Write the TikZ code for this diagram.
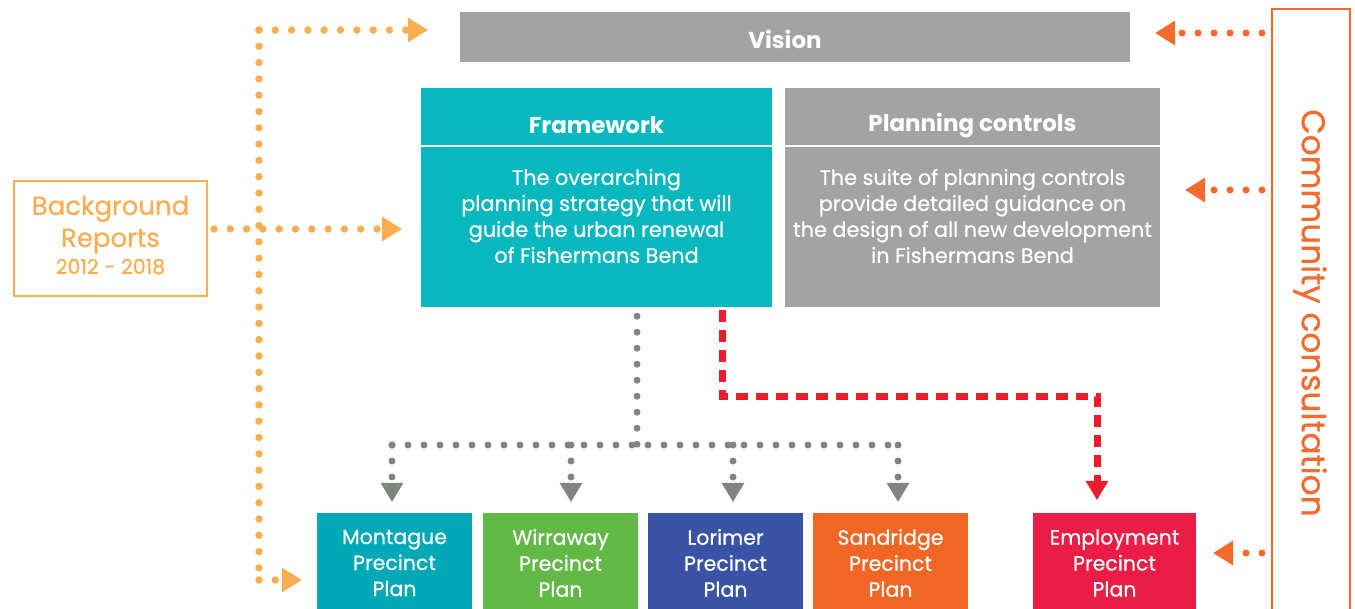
\documentclass[tikz,border=0pt]{standalone}
\usepackage{fontspec}
\setmainfont{Poppins}
\newfontfamily\medfont{Poppins}[FakeBold=0.6]
\usetikzlibrary{arrows.meta}
\definecolor{cgray}{HTML}{A3A3A3}
\definecolor{cteal}{HTML}{07B8BF}
\definecolor{cmont}{HTML}{01A9B7}
\definecolor{cgreen}{HTML}{62B946}
\definecolor{cblue}{HTML}{3A53A4}
\definecolor{csand}{HTML}{F26625}
\definecolor{cemp}{HTML}{EB1D47}
\definecolor{clor}{HTML}{FBAD52}
\definecolor{ccom}{HTML}{F26A2C}
\definecolor{cdot}{HTML}{808580}
\definecolor{cred}{HTML}{EC1C2D}
\tikzset{
  boxfill/.style={rectangle, inner sep=0pt, draw=none},
  titletext/.style={text=white, font=\fontsize{23}{26}\selectfont\bfseries},
  bodytext/.style={text=white, align=center, font=\medfont\fontsize{20.8}{26}\selectfont},
  precinct/.style={rectangle, inner sep=0pt, minimum width=155pt, minimum height=100pt,
    text=white, align=center, font=\medfont\fontsize{20.5}{26}\selectfont},
  odots/.style={clor, line width=7.5pt, line cap=round, dash pattern=on 0pt off 16.3pt},
  cdots/.style={ccom, line width=7pt, line cap=round, dash pattern=on 0pt off 16pt},
  gdots/.style={cdot, line width=7pt, line cap=round, dash pattern=on 0pt off 16pt},
  rdash/.style={cred, line width=7pt, dash pattern=on 12pt off 8pt},
  otip/.style={-{Triangle[length=20pt,width=25pt,line width=0pt]}},
  gtip/.style={-{Triangle[length=19pt,width=23pt,line width=0pt]}},
}
\begin{document}
\begin{tikzpicture}[x=1pt,y=-1pt]
\useasboundingbox (0,0) rectangle (1355,608);
\fill[white] (0,0) rectangle (1355,608);

% Vision
\node[boxfill, fill=cgray, minimum width=670pt, minimum height=50pt] (vision) at (795,37) {};
\node[titletext] (visiont) at (785,39) {Vision};

% Framework
\node[boxfill, fill=cteal, minimum width=351pt, minimum height=219pt] (fw) at (596.5,197.5) {};
\draw[white, line width=2.5pt] (fw.west |- 0,146) -- (fw.east |- 0,146);
\node[titletext] (fwt) at (596.5,125) {Framework};
\node[bodytext] (fwb) at (596.5,216) {The overarching\\planning strategy that will\\guide the urban renewal\\of Fishermans Bend};

% Planning controls
\node[boxfill, fill=cgray, minimum width=375pt, minimum height=219pt] (pc) at (972.5,197.5) {};
\draw[white, line width=2.5pt] (pc.west |- 0,146) -- (pc.east |- 0,146);
\node[titletext] (pct) at (972.5,125) {Planning controls};
\node[bodytext] (pcb) at (972.5,216) {The suite of planning controls\\provide detailed guidance on\\the design of all new development\\in Fishermans Bend};

% Background reports
\node[rectangle, draw=clor, line width=1.5pt, minimum width=193pt, minimum height=115pt] (bg) at (110.5,238.5) {};
\node[text=clor, align=center, font=\medfont\fontsize{26}{32}\selectfont] (bgt) at (110.5,235)
  {Background\\Reports\\[-5pt]{\fontsize{20.5}{22}\selectfont 2012 - 2018}};

% Community consultation
\node[rectangle, draw=ccom, line width=2.5pt, minimum width=78pt, minimum height=612pt] (com) at (1311,315) {};
\node[rotate=-90, text=ccom, font=\medfont\fontsize{32.8}{33}\selectfont] (comt) at (1310,313) {Community consultation};

% Precinct plans
\node[precinct, fill=cmont] (mont) at (394.5,563) {Montague\\Precinct\\Plan};
\node[precinct, fill=cgreen] (wirr) at (560.5,563) {Wirraway\\Precinct\\Plan};
\node[precinct, fill=cblue] (lori) at (725.5,563) {Lorimer\\Precinct\\Plan};
\node[precinct, fill=csand] (sand) at (890.5,563) {Sandridge\\Precinct\\Plan};
\node[precinct, fill=cemp, minimum width=163pt] (emp) at (1114.5,563) {Employment\\Precinct\\Plan};

% Background connectors
\coordinate (bgtop) at (259,30);
\coordinate (bgbot) at (259,580);
\coordinate (bgout) at (207,229);
\draw[odots] (bgtop) -- (bgbot);
\draw[odots, otip, shorten >=32pt] (bgtop) -- (bgtop -| vision.west);
\draw[odots, otip, shorten <=7pt, shorten >=19pt] (bgout) -- (bgout -| fw.west);
\draw[odots, otip, shorten >=15pt] (bgbot) -- (bgbot -| mont.west);

% Community connectors
\coordinate (c1) at (1262,33);
\coordinate (c2) at (1262,190);
\coordinate (c3) at (1262,553);
\draw[cdots, otip, shorten >=25pt] (c1) -- (c1 -| vision.east);
\draw[cdots, otip, shorten >=25pt] (c2) -- (c2 -| pc.east);
\draw[cdots, otip, shorten >=17pt] (c3) -- (c3 -| emp.east);

% Framework to precincts
\coordinate (g0) at (637,445);
\coordinate (gl) at (392,445);
\coordinate (gr) at (898,445);
\coordinate (gw) at (571,445);
\coordinate (glo) at (733,445);
\draw[gdots, shorten <=9pt] (g0 |- fw.south) -- (g0);
\draw[gdots] (gl) -- (gr);
\draw[gdots, gtip, shorten >=11pt] (gl) -- (gl |- mont.north);
\draw[gdots, gtip, shorten >=11pt] (gw) -- (gw |- wirr.north);
\draw[gdots, gtip, shorten >=11pt] (glo) -- (glo |- lori.north);
\draw[gdots, gtip, shorten >=11pt] (gr) -- (gr |- sand.north);

% Framework to employment
\coordinate (r0) at (722,396);
\coordinate (r1) at (1097,396);
\draw[rdash, gtip, shorten <=3pt, shorten >=13pt] (r0 |- fw.south) -- (r0) -- (r1) -- (r1 |- emp.north);
\end{tikzpicture}
\end{document}
